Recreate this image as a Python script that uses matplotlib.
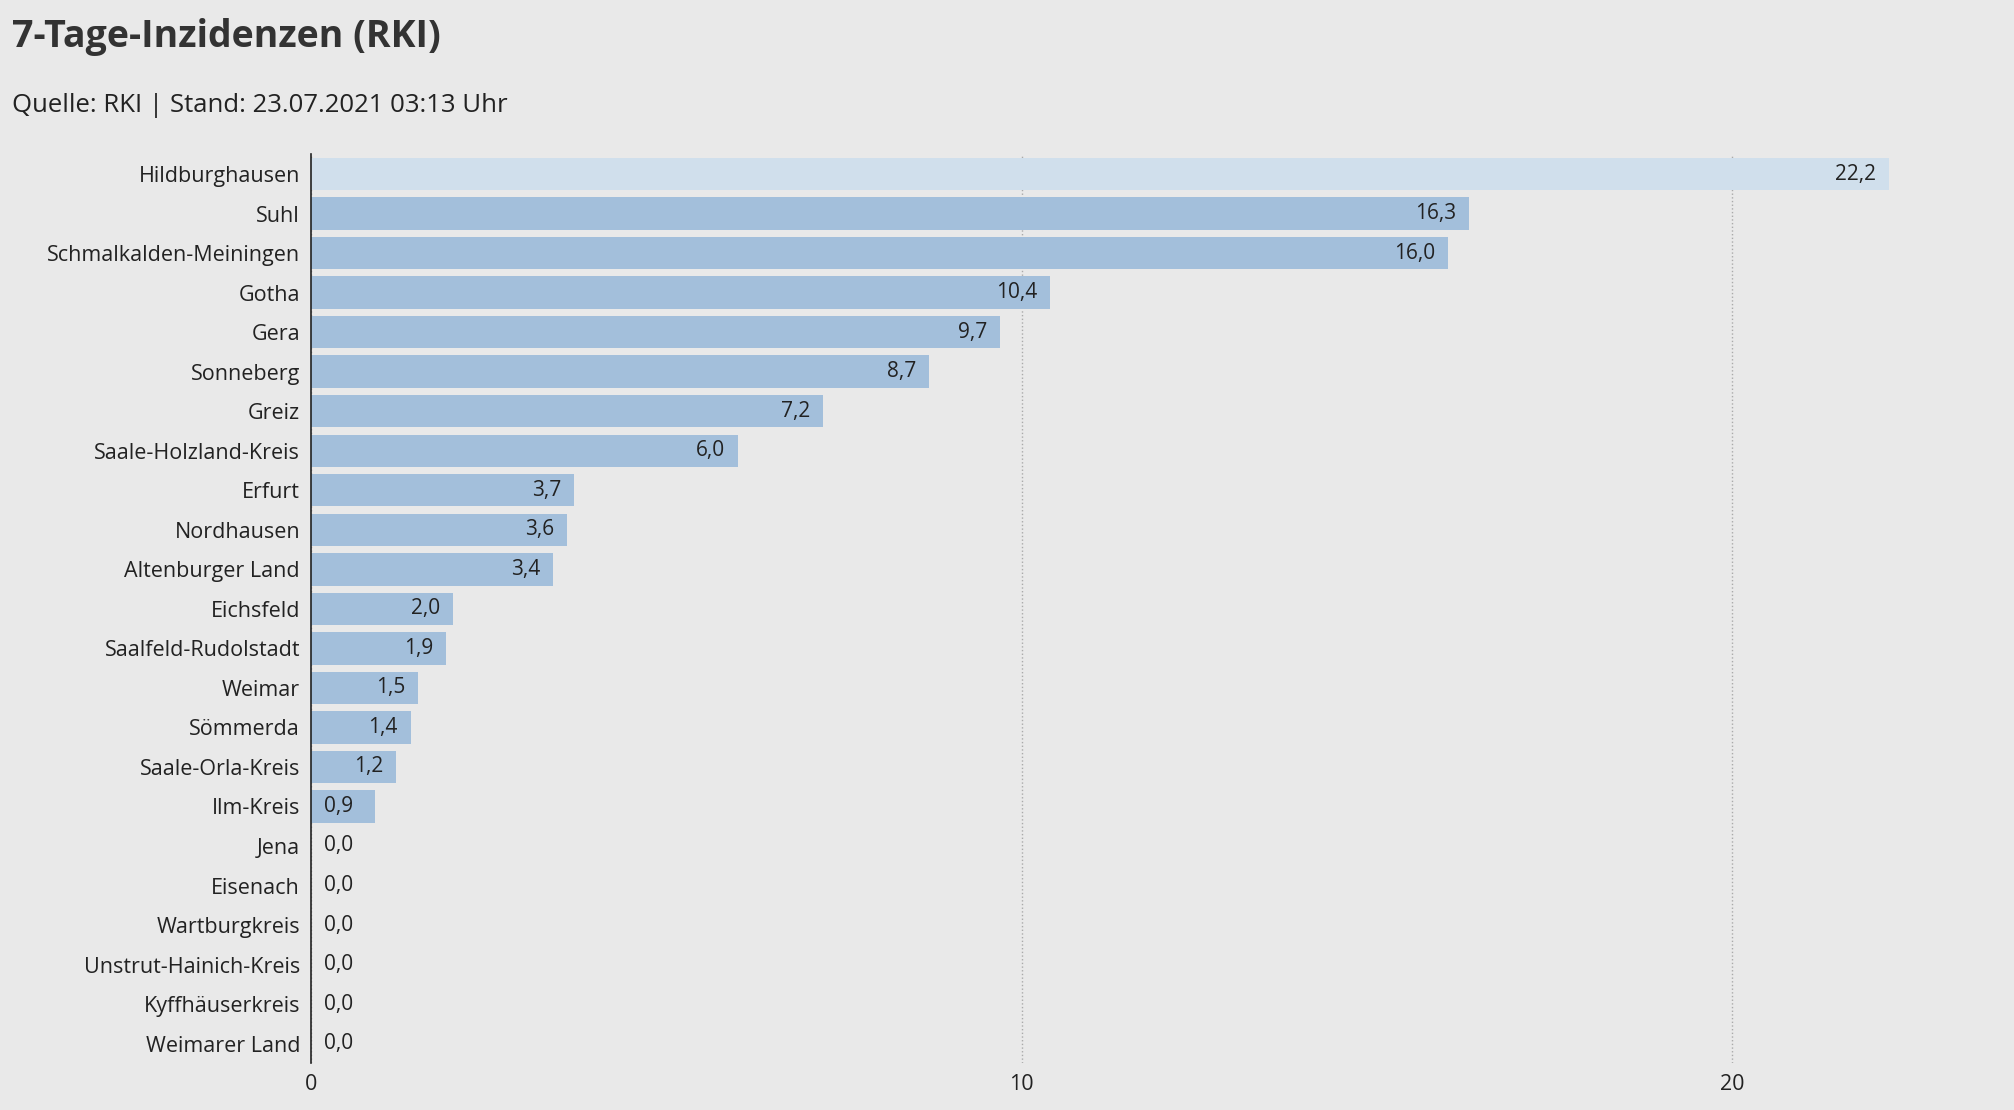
import numpy as np
import matplotlib.pyplot as plt
import pandas as pd

plt.rcParams['font.family'] = ['Open Sans', 'DejaVu Sans']

df = pd.DataFrame({'Kreis': ['Hildburghausen', 'Suhl', 'Schmalkalden-Meiningen', 'Gotha', 'Gera',
                             'Sonneberg', 'Greiz', 'Saale-Holzland-Kreis', 'Erfurt', 'Nordhausen',
                             'Altenburger Land', 'Eichsfeld', 'Saalfeld-Rudolstadt', 'Weimar',
                             'Sömmerda', 'Saale-Orla-Kreis', 'Ilm-Kreis', 'Jena', 'Eisenach',
                             'Wartburgkreis', 'Unstrut-Hainich-Kreis', 'Kyffhäuserkreis', 'Weimarer Land'],
                   'Inzidenz': [22.2, 16.3, 16.0, 10.4, 9.7, 8.7, 7.2, 6.0, 3.7, 3.6, 3.4, 2.0, 1.9,
                                1.5, 1.4, 1.2, 0.9, 0.0, 0.0, 0.0, 0.0, 0.0, 0.0]})

bg = '#e9e9e9'
fig = plt.figure(figsize=(20.14, 11.10), dpi=100, facecolor=bg)
ax = fig.add_axes([0.1545, 0.042, 0.845, 0.819], facecolor=bg)

y = np.arange(len(df))
colors = ['#d0dfec'] + ['#a3bfdb'] * (len(df) - 1)
ax.barh(y, df['Inzidenz'], height=0.82, color=colors, zorder=2)
for yi, v in zip(y, df['Inzidenz']):
    txt = f'{v:.1f}'.replace('.', ',')
    if v > 1:
        ax.text(v - 0.18, yi, txt, ha='right', va='center', fontsize=15, color='#222222', zorder=3)
    else:
        ax.text(0.18, yi, txt, ha='left', va='center', fontsize=15, color='#222222', zorder=3)

ax.set_yticks(y)
ax.set_yticklabels(df['Kreis'], fontsize=15.5, color='#222222')
ax.set_ylim(len(df) - 0.5, -0.5)
ax.set_xlim(0, 23.95)
ax.set_xticks([0, 10, 20])
ax.set_xticklabels(['0', '10', '20'], fontsize=15.5, color='#222222')
ax.tick_params(length=0, pad=8)
ax.xaxis.grid(True, linestyle=':', color='#aaaaaa', linewidth=1, zorder=0)
for s in ['top', 'right', 'bottom']:
    ax.spines[s].set_visible(False)
ax.spines['left'].set_color('#222222')
ax.spines['left'].set_linewidth(1.2)

fig.text(0.006, 0.967, '7-Tage-Inzidenzen (RKI)', fontsize=27, fontweight='bold', color='#333333', va='center')
fig.text(0.006, 0.905, 'Quelle: RKI | Stand: 23.07.2021 03:13 Uhr', fontsize=18.5, color='#222222', va='center')

plt.savefig('out.png', facecolor=bg)
